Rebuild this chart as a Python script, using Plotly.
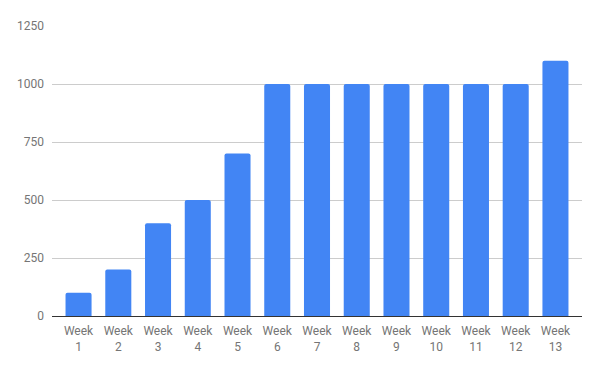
import plotly.graph_objects as go

weeks = [f"Week<br>{i}" for i in range(1, 14)]
values = [100, 200, 400, 500, 700, 1000, 1000, 1000, 1000, 1000, 1000, 1000, 1100]
y_ticks = [0, 250, 500, 750, 1000, 1250]

fig = go.Figure(go.Bar(
    x=list(range(13)), y=values,
    marker=dict(color="#4285F4", cornerradius=2, line=dict(width=0)),
))
fig.update_layout(
    width=600, height=371,
    margin=dict(l=52, r=18, t=26, b=55, autoexpand=False),
    plot_bgcolor="white", paper_bgcolor="white",
    bargap=0.345,
    showlegend=False,
    font=dict(family="Roboto", size=12, color="#757575"),
)
fig.update_xaxes(
    range=[-0.668, 12.668],
    tickvals=list(range(13)), ticktext=weeks,
    showgrid=False, zeroline=False, showline=False, ticks="",
    tickfont=dict(size=12, color="#757575"),
    automargin=False, ticklabelstandoff=6,
)
fig.update_yaxes(
    range=[0, 1250], tickvals=y_ticks,
    showgrid=True, gridcolor="#cccccc", gridwidth=1,
    zeroline=True, zerolinecolor="#333333", zerolinewidth=1,
    showline=False, ticks="", ticklabelstandoff=7,
    tickfont=dict(size=12, color="#757575"),
    automargin=False,
)
fig.write_html("out.html", config={"displayModeBar": False},
               post_script="document.body.style.margin='0';document.body.style.overflow='hidden';")
